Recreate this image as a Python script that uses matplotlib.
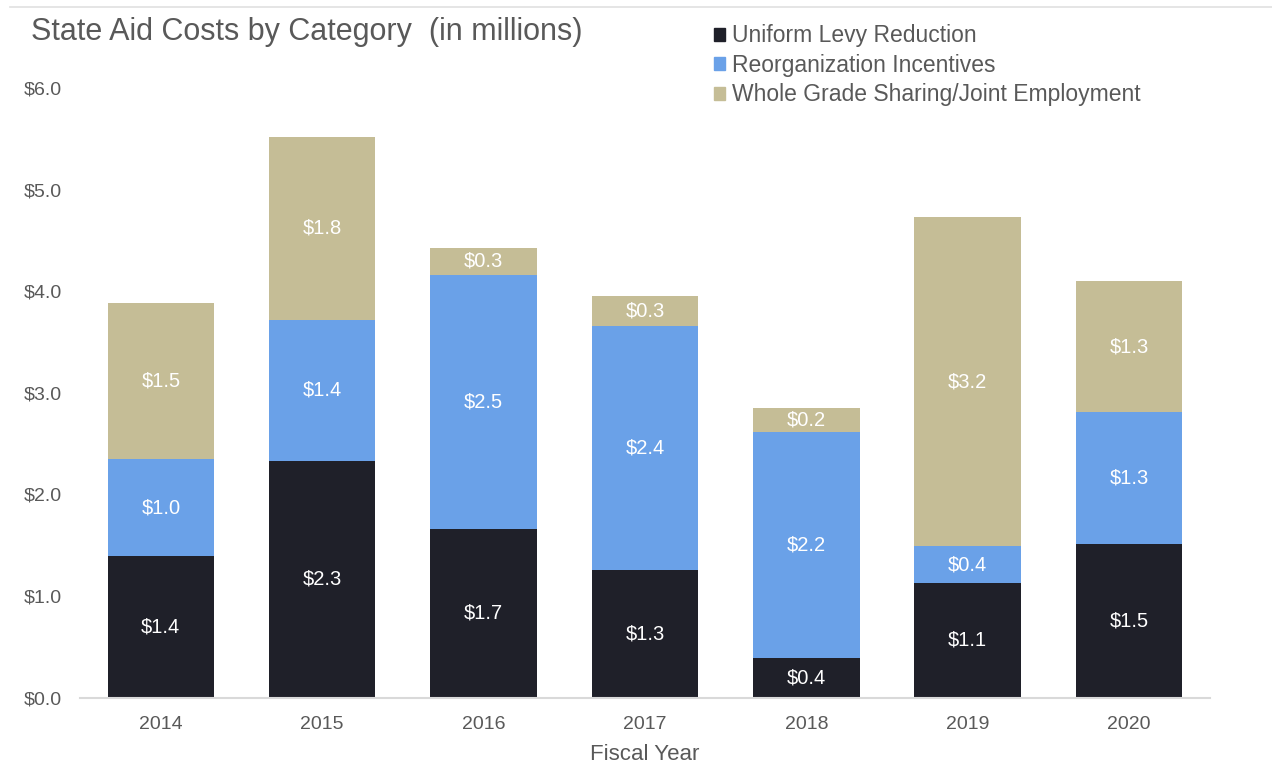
import numpy as np
import matplotlib.pyplot as plt
from matplotlib.patches import Patch
from matplotlib.lines import Line2D

plt.rcParams['font.family'] = ['Liberation Sans', 'DejaVu Sans']

years = ["2014", "2015", "2016", "2017", "2018", "2019", "2020"]
levy = [1.39, 2.33, 1.66, 1.26, 0.39, 1.13, 1.51]
reorg = [0.96, 1.39, 2.50, 2.40, 2.22, 0.36, 1.30]
sharing = [1.53, 1.80, 0.27, 0.29, 0.24, 3.24, 1.29]
series_names = ["Uniform Levy Reduction", "Reorganization Incentives",
                "Whole Grade Sharing/Joint Employment"]
colors = ["#1f2029", "#6aa1e8", "#c5bd96"]

fig = plt.figure(figsize=(12.72, 7.65), dpi=100)
ax = fig.add_axes([0.063, 0.088, 0.888, 0.797])

x = np.arange(len(years))
bottom = np.zeros(len(years))
for vals, c in zip([levy, reorg, sharing], colors):
    bars = ax.bar(x, vals, 0.66, bottom=bottom, color=c, zorder=2)
    for b, v, y0 in zip(bars, vals, bottom):
        ax.text(b.get_x() + b.get_width() / 2, y0 + v / 2, f"${v:.1f}",
                ha="center", va="center", color="white", fontsize=14.5)
    bottom += np.array(vals)

ax.set_xlim(-0.5, len(years) - 0.5)
ax.set_ylim(0, 6)
ax.set_yticks(np.arange(0, 6.1, 1))
ax.set_yticklabels([f"${v:.1f}" for v in np.arange(0, 6.1, 1)])
ax.set_xticks(x)
ax.set_xticklabels(years)
ax.tick_params(length=0, labelsize=14, labelcolor="#595959")
ax.tick_params(axis="x", pad=13)
ax.tick_params(axis="y", pad=13)
for s in ["top", "right", "left"]:
    ax.spines[s].set_visible(False)
ax.spines["bottom"].set_color("#d9d9d9")
ax.spines["bottom"].set_linewidth(1.5)
ax.set_xlabel("Fiscal Year", fontsize=16, color="#595959", labelpad=8)

fig.text(0.024, 0.958, "State Aid Costs by Category  (in millions)",
         fontsize=22, color="#595959", va="center")
fig.add_artist(Line2D([0.008, 1.0], [0.991, 0.991], color="#e0e0e0", lw=1.2))

handles = [Patch(color=c) for c in colors]
fig.legend(handles, series_names, loc="upper left", bbox_to_anchor=(0.545, 0.995),
           frameon=False, fontsize=16.5, handlelength=0.5, handleheight=0.5,
           handletextpad=0.3, labelspacing=0.28, labelcolor="#595959")

fig.savefig("out.png")
